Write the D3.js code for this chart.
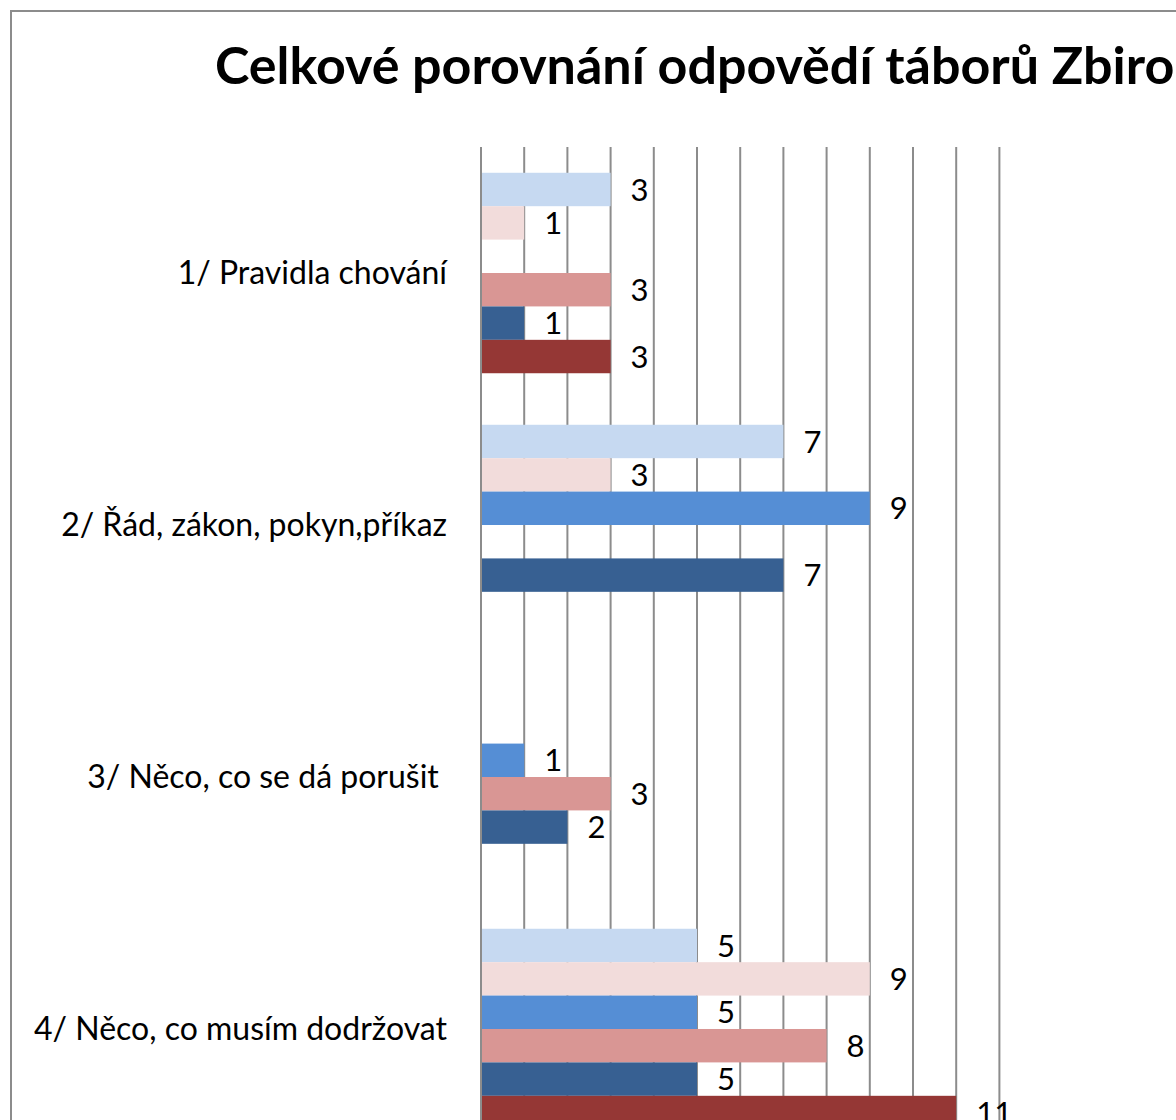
<!DOCTYPE html>
<html>
<head>
<meta charset="utf-8">
<script src="https://cdn.jsdelivr.net/npm/d3@7"></script>
<style>
  html, body { margin: 0; padding: 0; background: #fff; overflow: hidden; }
  svg { display: block; }
</style>
</head>
<body>
<div id="chart"></div>
<script>
const categories = [
  '1/ Pravidla chování',
  '2/ Řád, zákon, pokyn,příkaz',
  '3/ Něco, co se dá porušit ',
  '4/ Něco, co musím dodržovat'
];

// series listed top to bottom inside each group, null = no bar
const seriesNames = ['A', 'B', 'C', 'D', 'E', 'F'];
const seriesA = [3, 7, null, 5];
const seriesB = [1, 3, null, 9];
const seriesC = [null, 9, 1, 5];
const seriesD = [3, null, 3, 8];
const seriesE = [1, 7, 2, 5];
const seriesF = [3, null, null, 11];
const seriesColors = ['#c6d9f1', '#f2dcdb', '#558ed5', '#d99694', '#376092', '#953735'];
const xTicks = d3.range(0, 13);

const title = 'Celkové porovnání odpovědí táborů Zbirohu';

const width = 1176;
const height = 1120;
const font = 'Lato, Calibri, Carlito, sans-serif';

const svg = d3.select('#chart')
  .append('svg')
  .attr('width', width)
  .attr('height', height);

// chart frame
svg.append('path')
  .attr('d', 'M11,' + (height + 5) + 'V11H' + (width + 5))
  .attr('fill', 'none')
  .attr('stroke', '#8c8c8c')
  .attr('stroke-width', 2);

svg.append('text')
  .attr('x', 215)
  .attr('y', 84)
  .attr('font-family', font)
  .attr('font-weight', 'bold')
  .attr('font-size', 52)
  .attr('fill', '#000')
  .text(title);

const x = d3.scaleLinear()
  .domain([0, 12])
  .range([481, 999.4]);

const y = d3.scaleBand()
  .domain(categories)
  .range([147, 147 + 252 * categories.length])
  .paddingInner(0.2045)
  .paddingOuter(0.1023);

const allSeries = [seriesA, seriesB, seriesC, seriesD, seriesE, seriesF];

const ySub = d3.scaleBand()
  .domain(seriesNames)
  .range([0, y.bandwidth()]);

// vertical gridlines
svg.append('g')
  .selectAll('line')
  .data(xTicks)
  .enter()
  .append('line')
  .attr('x1', d => x(d))
  .attr('x2', d => x(d))
  .attr('y1', y.range()[0])
  .attr('y2', y.range()[1])
  .attr('stroke', '#8c8c8c')
  .attr('stroke-width', 2);

// category labels
svg.append('g')
  .selectAll('text')
  .data(categories)
  .enter()
  .append('text')
  .attr('x', 447)
  .attr('y', d => y(d) + y.bandwidth() / 2)
  .attr('dy', '0.35em')
  .attr('text-anchor', 'end')
  .attr('font-family', font)
  .attr('font-size', 32)
  .attr('fill', '#000')
  .style('white-space', 'pre')
  .text(d => d);

const rows = [];
allSeries.forEach((vals, si) => {
  vals.forEach((v, ci) => {
    if (v !== null) rows.push({ cat: categories[ci], s: seriesNames[si], v: v, color: seriesColors[si] });
  });
});

const groups = svg.append('g');

groups.selectAll('rect')
  .data(rows)
  .enter()
  .append('rect')
  .attr('x', x(0) + 1)
  .attr('y', d => y(d.cat) + ySub(d.s))
  .attr('width', d => x(d.v) - x(0) - 1)
  .attr('height', ySub.bandwidth())
  .attr('fill', d => d.color);

groups.selectAll('text')
  .data(rows)
  .enter()
  .append('text')
  .attr('x', d => x(d.v) + 20)
  .attr('y', d => y(d.cat) + ySub(d.s) + ySub.bandwidth() / 2)
  .attr('dy', '0.36em')
  .attr('font-family', font)
  .attr('font-size', 31)
  .attr('fill', '#000')
  .text(d => d.v);
</script>
</body>
</html>
